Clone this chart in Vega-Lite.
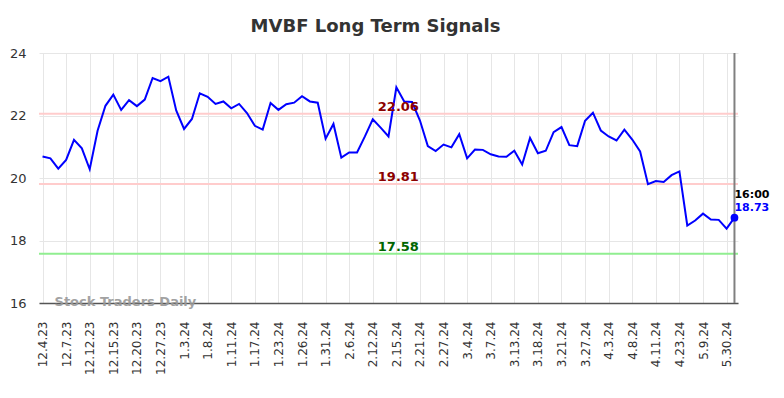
{
  "$schema": "https://vega.github.io/schema/vega-lite/v6.json",
  "width": 699,
  "height": 250,
  "autosize": {"type": "none"},
  "padding": {"left": 39, "top": 53, "right": 46, "bottom": 95},
  "background": "white",
  "title": {
    "text": "MVBF Long Term Signals",
    "font": "DejaVu Sans",
    "fontSize": 18,
    "fontWeight": "bold",
    "color": "#333333",
    "anchor": "middle",
    "dx": -13,
    "offset": 11
  },
  "config": {
    "view": {"stroke": null},
    "font": "DejaVu Sans",
    "axis": {"labelFont": "DejaVu Sans"}
  },
  "data": {
    "values": [
      {"date": "12.4.23", "value": 20.69}, {"date": "12.5.23", "value": 20.63}, {"date": "12.6.23", "value": 20.30},
      {"date": "12.7.23", "value": 20.58}, {"date": "12.8.23", "value": 21.22}, {"date": "12.11.23", "value": 20.95},
      {"date": "12.12.23", "value": 20.28}, {"date": "12.13.23", "value": 21.51}, {"date": "12.14.23", "value": 22.31},
      {"date": "12.15.23", "value": 22.67}, {"date": "12.18.23", "value": 22.18}, {"date": "12.19.23", "value": 22.49},
      {"date": "12.20.23", "value": 22.30}, {"date": "12.21.23", "value": 22.51}, {"date": "12.22.23", "value": 23.20},
      {"date": "12.27.23", "value": 23.10}, {"date": "12.28.23", "value": 23.24}, {"date": "12.29.23", "value": 22.16},
      {"date": "1.3.24", "value": 21.57}, {"date": "1.4.24", "value": 21.89}, {"date": "1.5.24", "value": 22.71},
      {"date": "1.8.24", "value": 22.60}, {"date": "1.9.24", "value": 22.37}, {"date": "1.10.24", "value": 22.45},
      {"date": "1.11.24", "value": 22.23}, {"date": "1.12.24", "value": 22.37}, {"date": "1.16.24", "value": 22.08},
      {"date": "1.17.24", "value": 21.67}, {"date": "1.18.24", "value": 21.55}, {"date": "1.22.24", "value": 22.40},
      {"date": "1.23.24", "value": 22.18}, {"date": "1.24.24", "value": 22.36}, {"date": "1.25.24", "value": 22.41},
      {"date": "1.26.24", "value": 22.62}, {"date": "1.29.24", "value": 22.45}, {"date": "1.30.24", "value": 22.41},
      {"date": "1.31.24", "value": 21.26}, {"date": "2.1.24", "value": 21.73}, {"date": "2.5.24", "value": 20.65},
      {"date": "2.6.24", "value": 20.82}, {"date": "2.8.24", "value": 20.82}, {"date": "2.9.24", "value": 21.33},
      {"date": "2.12.24", "value": 21.88}, {"date": "2.13.24", "value": 21.61}, {"date": "2.14.24", "value": 21.33},
      {"date": "2.15.24", "value": 22.90}, {"date": "2.16.24", "value": 22.45}, {"date": "2.20.24", "value": 22.43},
      {"date": "2.21.24", "value": 21.84}, {"date": "2.22.24", "value": 21.02}, {"date": "2.26.24", "value": 20.86},
      {"date": "2.27.24", "value": 21.07}, {"date": "2.28.24", "value": 20.98}, {"date": "3.1.24", "value": 21.40},
      {"date": "3.4.24", "value": 20.63}, {"date": "3.5.24", "value": 20.91}, {"date": "3.6.24", "value": 20.90},
      {"date": "3.7.24", "value": 20.76}, {"date": "3.8.24", "value": 20.69}, {"date": "3.12.24", "value": 20.68},
      {"date": "3.13.24", "value": 20.87}, {"date": "3.14.24", "value": 20.43}, {"date": "3.15.24", "value": 21.28},
      {"date": "3.18.24", "value": 20.79}, {"date": "3.19.24", "value": 20.87}, {"date": "3.20.24", "value": 21.47},
      {"date": "3.21.24", "value": 21.63}, {"date": "3.22.24", "value": 21.05}, {"date": "3.26.24", "value": 21.02},
      {"date": "3.27.24", "value": 21.83}, {"date": "3.28.24", "value": 22.09}, {"date": "4.2.24", "value": 21.52},
      {"date": "4.3.24", "value": 21.33}, {"date": "4.4.24", "value": 21.20}, {"date": "4.5.24", "value": 21.55},
      {"date": "4.8.24", "value": 21.23}, {"date": "4.9.24", "value": 20.85}, {"date": "4.10.24", "value": 19.80},
      {"date": "4.11.24", "value": 19.90}, {"date": "4.15.24", "value": 19.87}, {"date": "4.19.24", "value": 20.09},
      {"date": "4.23.24", "value": 20.21}, {"date": "4.29.24", "value": 18.48}, {"date": "5.3.24", "value": 18.64},
      {"date": "5.9.24", "value": 18.86}, {"date": "5.15.24", "value": 18.67}, {"date": "5.22.24", "value": 18.66},
      {"date": "5.30.24", "value": 18.38}, {"date": "5.31.24", "value": 18.73}
    ]
  },
  "encoding": {
    "x": {
      "field": "date",
      "type": "ordinal",
      "sort": null,
      "scale": {"type": "point", "padding": 0.45},
      "axis": {
        "title": null,
        "values": ["12.4.23", "12.7.23", "12.12.23", "12.15.23", "12.20.23", "12.27.23", "1.3.24", "1.8.24", "1.11.24", "1.17.24", "1.23.24", "1.26.24", "1.31.24", "2.6.24", "2.12.24", "2.15.24", "2.21.24", "2.27.24", "3.4.24", "3.7.24", "3.13.24", "3.18.24", "3.21.24", "3.27.24", "4.3.24", "4.8.24", "4.11.24", "4.23.24", "5.9.24", "5.30.24"],
        "labelAngle": -90,
        "labelFontSize": 12,
        "labelColor": "#333333",
        "labelPadding": 18,
        "ticks": false,
        "grid": true,
        "gridColor": "#e6e6e6",
        "gridWidth": 1,
        "domain": true,
        "domainColor": "#555555",
        "domainWidth": 1.5
      }
    }
  },
  "layer": [
    {
      "data": {"values": [
        {"level": 22.06, "label": "22.06", "kind": "upper"},
        {"level": 19.81, "label": "19.81", "kind": "middle"},
        {"level": 17.58, "label": "17.58", "kind": "lower"}
      ]},
      "mark": {"type": "rule", "strokeWidth": 2},
      "encoding": {
        "x": null,
        "y": {
          "field": "level",
          "type": "quantitative",
          "scale": {"domain": [16, 24], "nice": false, "zero": false},
          "axis": {
            "title": null,
            "values": [16, 18, 20, 22, 24],
            "labelFontSize": 13,
            "labelColor": "#333333",
            "labelPadding": 13,
            "ticks": false,
            "domain": false,
            "grid": true,
            "gridColor": "#e6e6e6",
            "gridWidth": 1
          }
        },
        "color": {
          "field": "kind",
          "type": "nominal",
          "scale": {"domain": ["upper", "middle", "lower"], "range": ["#ffcccc", "#ffcccc", "#90ee90"]},
          "legend": null
        }
      }
    },
    {
      "mark": {"type": "line", "color": "#0000ff", "strokeWidth": 2},
      "encoding": {
        "y": {"field": "value", "type": "quantitative"}
      }
    },
    {
      "transform": [{"filter": "datum.date === '5.31.24'"}],
      "mark": {"type": "rule", "color": "#808080", "strokeWidth": 2},
      "encoding": {}
    },
    {
      "transform": [{"filter": "datum.date === '5.31.24'"}],
      "mark": {"type": "point", "filled": true, "color": "#0000ff", "size": 60, "opacity": 1},
      "encoding": {
        "y": {"field": "value", "type": "quantitative"}
      }
    },
    {
      "transform": [{"filter": "datum.date === '5.31.24'"}],
      "mark": {"type": "text", "text": "16:00", "align": "left", "baseline": "alphabetic", "dy": -20, "fontSize": 11, "fontWeight": "bold", "color": "#000000"},
      "encoding": {
        "y": {"field": "value", "type": "quantitative"}
      }
    },
    {
      "transform": [{"filter": "datum.date === '5.31.24'"}],
      "mark": {"type": "text", "align": "left", "baseline": "alphabetic", "dy": -7, "fontSize": 11, "fontWeight": "bold", "color": "#0000ff"},
      "encoding": {
        "y": {"field": "value", "type": "quantitative"},
        "text": {"field": "value", "type": "quantitative", "format": ".2f"}
      }
    },
    {
      "data": {"values": [
        {"level": 22.06, "label": "22.06", "kind": "upper"},
        {"level": 19.81, "label": "19.81", "kind": "middle"},
        {"level": 17.58, "label": "17.58", "kind": "lower"}
      ]},
      "mark": {"type": "text", "align": "center", "baseline": "alphabetic", "dy": -3, "dx": 2, "fontSize": 13, "fontWeight": "bold"},
      "encoding": {
        "x": {"datum": "2.15.24"},
        "y": {"field": "level", "type": "quantitative"},
        "text": {"field": "label"},
        "color": {
          "field": "kind",
          "type": "nominal",
          "scale": {"domain": ["upper", "middle", "lower"], "range": ["#8b0000", "#8b0000", "#006400"]},
          "legend": null
        }
      }
    },
    {
      "data": {"values": [{"label": "Stock Traders Daily"}]},
      "mark": {"type": "text", "align": "left", "baseline": "middle", "dx": 12, "dy": -1, "fontSize": 13, "fontWeight": "bold", "color": "#999999", "opacity": 0.9},
      "encoding": {
        "x": {"datum": "12.4.23"},
        "y": {"datum": 16},
        "text": {"field": "label"}
      }
    }
  ],
  "resolve": {"scale": {"color": "independent"}}
}
